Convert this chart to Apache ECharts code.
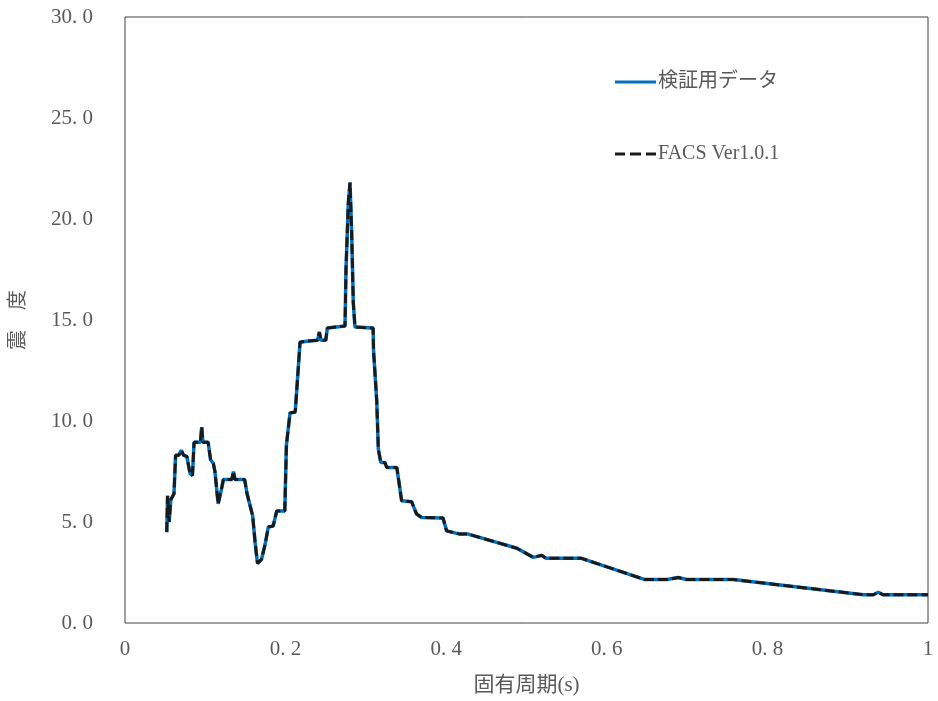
<!DOCTYPE html>
<html>
<head>
<meta charset="utf-8">
<script src="https://cdn.jsdelivr.net/npm/echarts@6/dist/echarts.min.js"></script>
<style>
  html, body { margin: 0; padding: 0; background: #fff; }
  #chart { width: 938px; height: 701px; }
</style>
</head>
<body>
<div id="chart"></div>
<script>
// 固有周期 (s)
var periods = [
  0.052, 0.053, 0.055, 0.057, 0.061, 0.063, 0.067, 0.070, 0.073, 0.077,
  0.081, 0.084, 0.086, 0.094, 0.0955, 0.097, 0.1035, 0.1065, 0.110, 0.112,
  0.116, 0.120, 0.1225, 0.133, 0.135, 0.137, 0.149, 0.152, 0.159, 0.162,
  0.165, 0.170, 0.1745, 0.1785, 0.1845, 0.189, 0.199, 0.201, 0.2055, 0.212,
  0.218, 0.226, 0.240, 0.242, 0.244, 0.250, 0.252, 0.274, 0.2752, 0.2781,
  0.2802, 0.2823, 0.2843, 0.2864, 0.309, 0.3095, 0.3135, 0.3155, 0.3185, 0.3235,
  0.326, 0.3385, 0.3445, 0.357, 0.363, 0.3695, 0.396, 0.4005, 0.417, 0.4275,
  0.488, 0.5085, 0.519, 0.5245, 0.5685, 0.6475, 0.6745, 0.689, 0.6995, 0.7576,
  0.9195, 0.932, 0.938, 0.944, 1.0
]
// 検証用データ
var refValues = [
  4.5, 6.3, 5.0, 6.1, 6.4, 8.3, 8.3, 8.55, 8.3, 8.25,
  7.4, 7.3, 8.95, 8.95, 9.7, 8.95, 8.95, 8.1, 7.9, 7.5,
  5.9, 6.6, 7.1, 7.1, 7.5, 7.1, 7.1, 6.4, 5.3, 4.0,
  2.95, 3.15, 3.9, 4.75, 4.8, 5.55, 5.55, 8.8, 10.4, 10.45,
  13.9, 13.95, 14.0, 14.4, 14.0, 14.0, 14.6, 14.7, 17.5, 20.8,
  21.8, 19.3, 15.85, 14.65, 14.6, 13.5, 11.0, 8.6, 7.95, 7.95,
  7.7, 7.7, 6.05, 6.0, 5.4, 5.22, 5.2, 4.56, 4.4, 4.4,
  3.7, 3.25, 3.35, 3.2, 3.2, 2.15, 2.15, 2.25, 2.15, 2.15,
  1.4, 1.4, 1.52, 1.4, 1.4
]
// FACS Ver1.0.1 (検証用データと一致)
var facsValues = refValues.slice()

var xTicks = { min: 0, max: 1, interval: 0.2 }
var yTicks = { min: 0, max: 30, interval: 5 }

function pairs (xs, ys) {
  return xs.map(function (x, i) { return [x, ys[i]] })
}

var font = 'Liberation Serif, Noto Sans CJK JP'
var gray = '#595959'
var blue = '#0070C0'
var black = '#1a1a1a'

var myChart = echarts.init(document.getElementById('chart'))
var option = {
  animation: false,
  textStyle: { fontFamily: font },
  grid: {
    left: 125, top: 17, right: 10, bottom: 77,
    show: true, borderColor: '#404040', borderWidth: 1
  },
  legend: {
    orient: 'vertical',
    left: 610,
    top: 67,
    itemWidth: 41,
    itemHeight: 3,
    itemGap: 52,
    textStyle: { fontFamily: font, fontSize: 20, color: gray, padding: [0, 0, 0, -3] },
    data: [
      { name: '検証用データ', icon: 'path://M0,0H41V3H0Z', itemStyle: { color: blue } },
      { name: 'FACS Ver1.0.1', icon: 'path://M0,0H10V3H0ZM15,0H26V3H15ZM31,0H41V3H31Z', itemStyle: { color: black } }
    ]
  },
  xAxis: {
    type: 'value',
    min: xTicks.min,
    max: xTicks.max,
    interval: xTicks.interval,
    name: '固有周期(s)',
    nameLocation: 'middle',
    nameGap: 52,
    nameTextStyle: { fontFamily: font, fontSize: 21, color: gray },
    axisLine: { show: false },
    axisTick: { show: false },
    splitLine: { show: false },
    axisLabel: {
      margin: 16,
      fontSize: 21,
      color: gray,
      formatter: function (v) {
        if (v === 0) return '0'
        if (v === 1) return '1'
        return v.toFixed(1).replace('.', '. ')
      }
    }
  },
  yAxis: {
    type: 'value',
    min: yTicks.min,
    max: yTicks.max,
    interval: yTicks.interval,
    name: '震　度',
    nameLocation: 'middle',
    nameGap: 96,
    nameRotate: 90,
    nameTextStyle: { fontFamily: font, fontSize: 20, color: gray },
    axisLine: { show: false },
    axisTick: { show: false },
    splitLine: { show: false },
    axisLabel: {
      margin: 32,
      fontSize: 21,
      color: gray,
      formatter: function (v) { return v.toFixed(1).replace('.', '. ') }
    }
  },
  series: [
    {
      name: '検証用データ',
      type: 'line',
      symbol: 'none',
      data: pairs(periods, refValues),
      lineStyle: { color: blue, width: 3.5 },
      itemStyle: { color: blue },
      z: 2
    },
    {
      name: 'FACS Ver1.0.1',
      type: 'line',
      symbol: 'none',
      data: pairs(periods, facsValues),
      lineStyle: { color: black, width: 3, type: [10, 4] },
      itemStyle: { color: black },
      z: 3
    }
  ]
}
myChart.setOption(option)
</script>
</body>
</html>
